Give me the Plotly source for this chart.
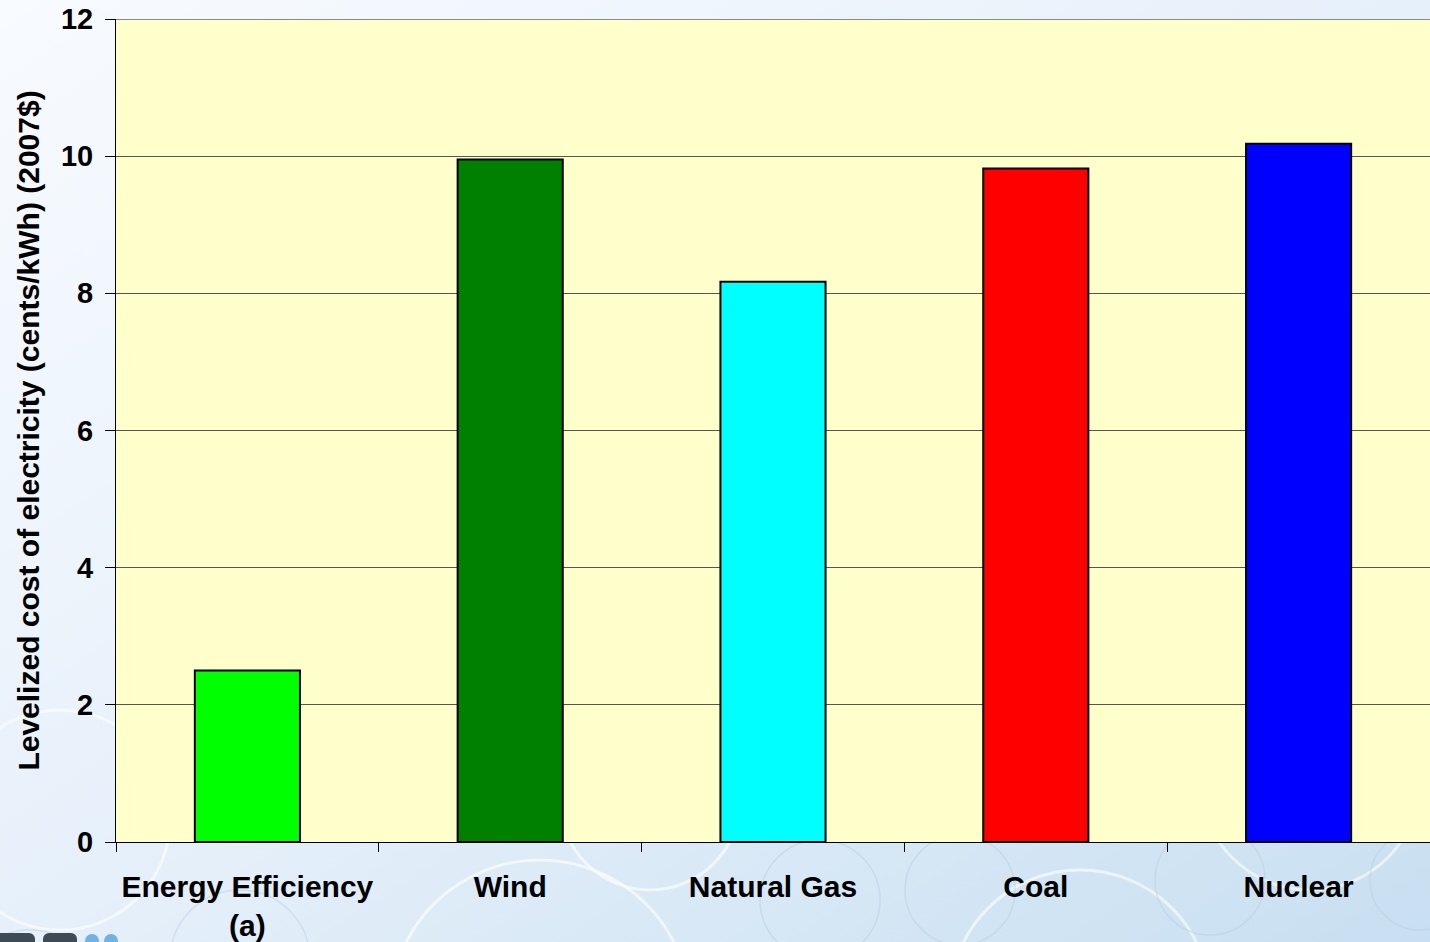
import urllib.parse
import plotly.graph_objects as go

categories = ["Energy Efficiency<br>(a)", "Wind", "Natural Gas", "Coal", "Nuclear"]
values = [2.5, 9.95, 8.17, 9.82, 10.18]
colors = ["#00FF00", "#008000", "#00FFFF", "#FF0000", "#0000FF"]
y_ticks = [0, 2, 4, 6, 8, 10, 12]

font_family = "Liberation Sans, Arial, sans-serif"
W, H = 1430, 942
ML, MR, MT, MB = 116, 0, 19, 100
pw, ph = W - ML - MR, H - MT - MB

svg = f"""<svg xmlns='http://www.w3.org/2000/svg' width='{W}' height='{H}' viewBox='0 0 {W} {H}'>
<defs><linearGradient id='g' x1='0' y1='0' x2='1' y2='1'>
<stop offset='0' stop-color='#F8FBFF'/><stop offset='0.5' stop-color='#E6F0FA'/><stop offset='1' stop-color='#C8DFF1'/>
</linearGradient></defs>
<rect width='{W}' height='{H}' fill='url(#g)'/>
<g fill='none' stroke='#FFFFFF' stroke-opacity='0.6' stroke-width='3'>
<circle cx='60' cy='820' r='110'/><circle cx='650' cy='800' r='90'/><circle cx='1310' cy='780' r='110'/>
<circle cx='540' cy='1010' r='150'/><circle cx='1080' cy='1000' r='130'/>
</g>
<g fill='none' stroke='#B8CCDD' stroke-opacity='0.45' stroke-width='1.5'>
<circle cx='30' cy='1010' r='80'/><circle cx='240' cy='960' r='70'/><circle cx='820' cy='900' r='60'/>
<circle cx='960' cy='890' r='55'/><circle cx='1210' cy='880' r='55'/><circle cx='1420' cy='880' r='50'/>
</g>
<rect x='{ML}' y='{MT}' width='{pw}' height='{ph}' fill='#FFFFCC'/>
<rect x='-10' y='933' width='45' height='20' rx='6' fill='#3E4A56'/>
<rect x='43' y='933' width='34' height='20' rx='6' fill='#3E4A56'/>
<circle cx='92' cy='941' r='7' fill='#6FB2E4'/><circle cx='111' cy='941' r='7' fill='#6FB2E4'/>
</svg>"""
bg_uri = "data:image/svg+xml;charset=utf-8," + urllib.parse.quote(svg)

fig = go.Figure(go.Bar(
    x=categories, y=values,
    marker=dict(color=colors, line=dict(color="black", width=2)),
    width=0.4,
))

fig.add_layout_image(dict(
    source=bg_uri, xref="paper", yref="paper",
    x=-ML / pw, y=1 + MT / ph, sizex=W / pw, sizey=H / ph,
    xanchor="left", yanchor="top", sizing="stretch", layer="below",
))

# top border of plot area (grid line at the top tick)
fig.add_shape(type="line", xref="paper", yref="y", x0=0, x1=1,
              y0=y_ticks[-1], y1=y_ticks[-1],
              line=dict(color="#8A8A8A", width=2), layer="above")

fig.update_layout(
    width=W, height=H,
    margin=dict(l=ML, r=MR, t=MT, b=MB),
    paper_bgcolor="#E8F1FA",
    plot_bgcolor="#FFFFCC",
    showlegend=False,
    font=dict(family=font_family, color="black", size=30, weight="bold"),
)
fig.update_xaxes(
    showline=True, linecolor="black", linewidth=1,
    ticks="outside", tickson="boundaries", ticklen=9, tickcolor="black",
    tickfont=dict(size=30, weight="bold"), ticklabelstandoff=18,
    showgrid=False,
)
fig.update_yaxes(
    range=[0, 12], tickvals=y_ticks,
    showline=True, linecolor="black", linewidth=1,
    ticks="outside", ticklen=10, tickcolor="black",
    tickfont=dict(size=29, weight="bold"), ticklabelstandoff=6,
    showgrid=True, gridcolor="#555555", gridwidth=1,
    zeroline=False,
    title=dict(text="Levelized cost of electricity (cents/kWh) (2007$)",
               font=dict(size=30, weight="bold"), standoff=12),
)

fig.write_html("out.html", config={"displayModeBar": False},
               post_script="document.body.style.margin='0';")
